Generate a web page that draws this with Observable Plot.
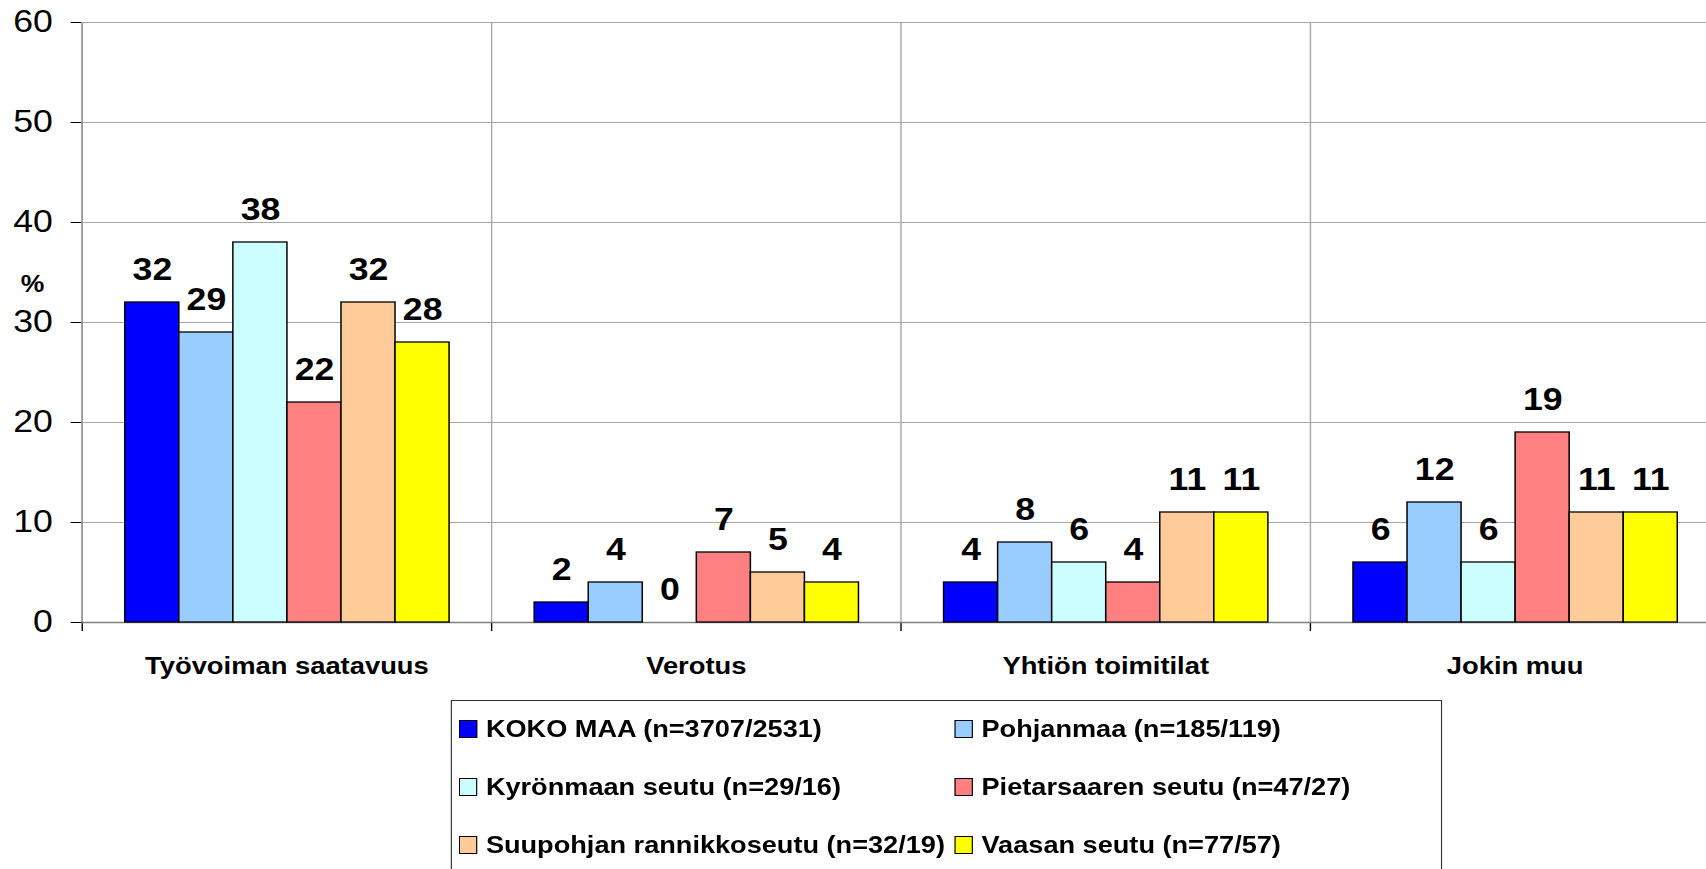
<!DOCTYPE html>
<html>
<head>
<meta charset="utf-8">
<script src="https://cdn.jsdelivr.net/npm/d3@7"></script>
<script src="https://cdn.jsdelivr.net/npm/@observablehq/plot@0.6"></script>
<style>
  html, body { margin: 0; padding: 0; overflow: hidden; background: #fff; }
  #wrap { position: relative; width: 1495px; height: 869px; transform: scaleX(1.15); transform-origin: 0 0; font-family: 'Liberation Sans', Arial, sans-serif; }
  #chart { position: absolute; left: 0; top: 0; }
  #pct { position: absolute; left: 18px; top: 271px; font-weight: bold; font-size: 23px; }
  #legend { position: absolute; left: 392px; top: 700px; width: 862px; height: 220px; border: 1px solid #333; box-sizing: border-box; }
  .item { position: absolute; display: flex; align-items: center; font-weight: bold; font-size: 23.6px; white-space: nowrap; height: 30px; }
  .sw { width: 14px; height: 16px; border: 1px solid #000; margin-right: 7.5px; flex: none; }
</style>
</head>
<body>
<div id="wrap">
  <div id="chart"></div>
  <div id="pct">%</div>
  <div id="legend"></div>
</div>
<script>
const categories = ["Työvoiman saatavuus", "Verotus", "Yhtiön toimitilat", "Jokin muu"];
const series = [
  "KOKO MAA (n=3707/2531)",
  "Pohjanmaa (n=185/119)",
  "Kyrönmaan seutu (n=29/16)",
  "Pietarsaaren seutu (n=47/27)",
  "Suupohjan rannikkoseutu (n=32/19)",
  "Vaasan seutu (n=77/57)"
];
const colors = ["#0000ff", "#99ccff", "#ccffff", "#ff8080", "#ffcc99", "#ffff00"];

const kokoMaa      = [32, 2, 4, 6];
const pohjanmaa    = [29, 4, 8, 12];
const kyronmaan    = [38, 0, 6, 6];
const pietarsaaren = [22, 7, 4, 19];
const suupohjan    = [32, 5, 11, 11];
const vaasan       = [28, 4, 11, 11];

const yTicks = [0, 10, 20, 30, 40, 50, 60];

const seriesValues = [kokoMaa, pohjanmaa, kyronmaan, pietarsaaren, suupohjan, vaasan];
const data = [];
categories.forEach((c, ci) => {
  series.forEach((s, si) => {
    data.push({category: c, series: s, value: seriesValues[si][ci]});
  });
});

const chart = Plot.plot({
  width: 1495,
  height: 680,
  marginLeft: 70.5,
  marginRight: 0,
  marginTop: 22,
  marginBottom: 58,
  style: {
    fontFamily: "'Liberation Sans', Arial, sans-serif",
    fontSize: "31px",
    color: "black",
    background: "white",
    overflow: "visible"
  },
  fx: {domain: categories, padding: 0, axis: null},
  x: {domain: series, paddingInner: 0, paddingOuter: 0.733, axis: null},
  y: {domain: [0, 60], ticks: yTicks, tickSize: 9.6, tickPadding: 16, label: null, line: true},
  color: {domain: series, range: colors},
  marks: [
    Plot.ruleY(yTicks.filter(t => t > 0), {stroke: "#a6a6a6", strokeWidth: 1.2}),
    Plot.frame({anchor: "left", stroke: "#a6a6a6", strokeWidth: 1.2}),
    Plot.frame({anchor: "left", stroke: "#000", strokeWidth: 1.2, insetTop: 600, insetBottom: -8}),
    Plot.ruleY([0], {stroke: "#808080", strokeWidth: 1.5}),
    Plot.barY(data, {fx: "category", x: "series", y: "value", fill: "series", stroke: "#000", strokeWidth: 1.3}),
    Plot.text(data, {fx: "category", x: "series", y: "value", text: d => String(d.value), dy: -32, fontSize: 31, fontWeight: "bold", fill: "#000"}),
    Plot.text(categories, {fx: d => d, text: d => d, frameAnchor: "bottom", dy: 51, fontSize: 23.8, fontWeight: "bold", fill: "#000"})
  ]
});
document.getElementById("chart").appendChild(chart);

const legend = document.getElementById("legend");
const colLeft = [6, 437];
const rowY = [29, 87, 145];
series.forEach((s, i) => {
  const col = i % 2, row = Math.floor(i / 2);
  const it = document.createElement("div");
  it.className = "item";
  it.style.left = colLeft[col] + "px";
  it.style.top = (rowY[row] - 16) + "px";
  const sw = document.createElement("div");
  sw.className = "sw";
  sw.style.background = colors[i];
  const tx = document.createElement("span");
  tx.textContent = s;
  it.appendChild(sw);
  it.appendChild(tx);
  legend.appendChild(it);
});
</script>
</body>
</html>
